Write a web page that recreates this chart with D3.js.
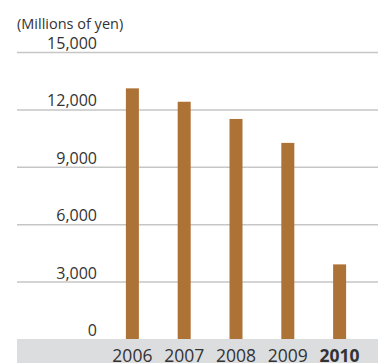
<!DOCTYPE html>
<html>
<head>
<meta charset="utf-8">
<script src="https://cdn.jsdelivr.net/npm/d3@7"></script>
<style>
  html, body { margin: 0; padding: 0; background: #fff; }
  svg { display: block; }
  text { font-family: "Open Sans", "Noto Sans", sans-serif; fill: #333; }
</style>
</head>
<body>
<svg id="chart" width="378" height="363"></svg>
<script>
// Yearly amounts in millions of yen
const years = ["2006", "2007", "2008", "2009", "2010"];
const values = [13100, 12400, 11500, 10250, 3900];
const tickValues = [0, 3000, 6000, 9000, 12000, 15000];
const unitLabel = "(Millions of yen)";
const highlightYear = "2010";

const W = 378, H = 363;
const left = 17, right = W;
const plotTop = 52, baseY = 339;

const svg = d3.select("#chart");

const y = d3.scaleLinear().domain([0, 15000]).range([baseY, plotTop]);
const x = d3.scaleBand().domain(years).range([106.5, 365.5]).paddingInner(0.749).paddingOuter(0.374);

// Bottom band behind the year labels
svg.append("rect")
  .attr("x", left).attr("y", baseY)
  .attr("width", right - left).attr("height", H - baseY)
  .attr("fill", "#dcdddf");

// Gridlines and value labels
const yAxis = d3.axisLeft(y)
  .tickValues(tickValues)
  .tickSize(-(right - left))
  .tickFormat(d3.format(","));

const gy = svg.append("g")
  .attr("transform", `translate(${left},0)`)
  .call(yAxis);
gy.select(".domain").remove();
gy.selectAll(".tick line")
  .attr("stroke", "#c6c6c6")
  .attr("stroke-width", 1.5)
  .attr("display", d => d === 0 ? "none" : null);
gy.selectAll(".tick text")
  .attr("x", 80)
  .attr("dy", -3.5)
  .attr("text-anchor", "end")
  .attr("font-size", 16)
  .attr("fill", "#333");

// Bars
svg.append("g").selectAll("rect")
  .data(values)
  .join("rect")
  .attr("x", (d, i) => x(years[i]))
  .attr("width", x.bandwidth())
  .attr("y", d => y(d))
  .attr("height", d => baseY - y(d))
  .attr("fill", "#ad7236");

// Year labels
const xAxis = d3.axisBottom(x).tickSize(0);
const gx = svg.append("g")
  .attr("transform", `translate(0,${baseY})`)
  .call(xAxis);
gx.select(".domain").remove();
gx.selectAll(".tick text")
  .attr("y", 22.5)
  .attr("dy", 0)
  .attr("font-size", 17.5)
  .attr("fill", "#333")
  .attr("font-weight", d => d === highlightYear ? "bold" : "normal")
  .style("font-family", "'Open Sans', 'Noto Sans', sans-serif");

// Unit label
svg.append("text")
  .attr("x", left)
  .attr("y", 29)
  .attr("font-size", 14.5)
  .text(unitLabel);
</script>
</body>
</html>
